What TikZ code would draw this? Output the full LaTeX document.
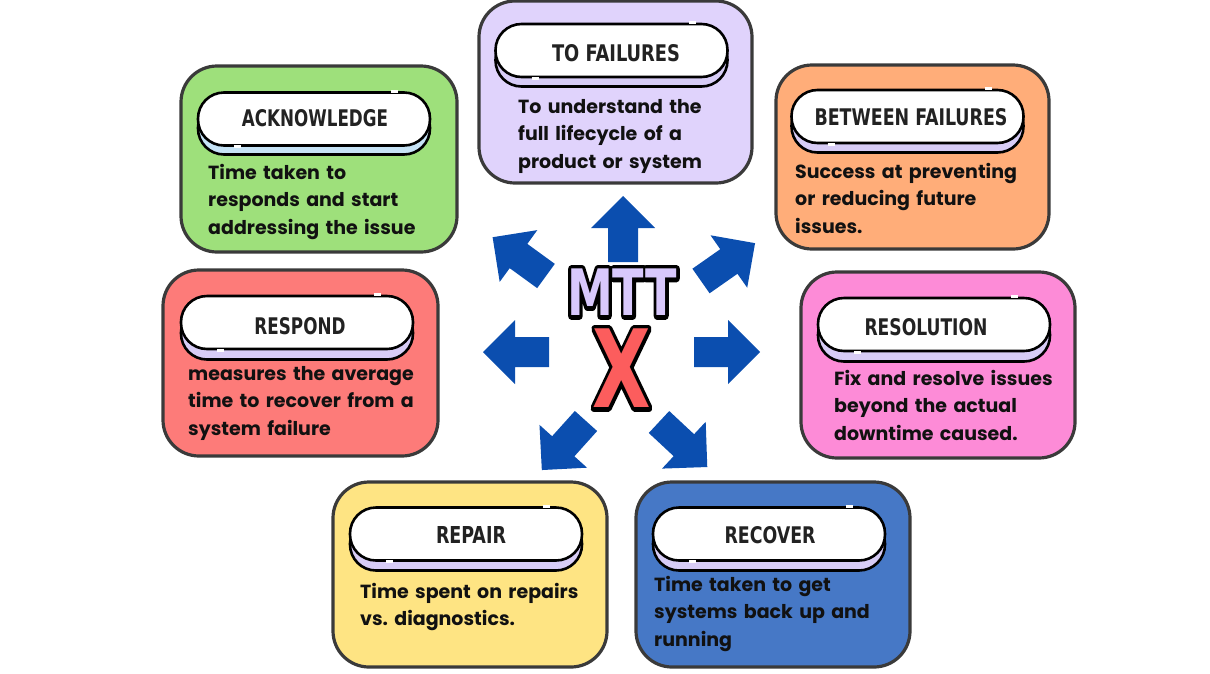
\documentclass[tikz,border=0pt]{standalone}
\usepackage{fontspec}
\usepackage{graphicx}
\newfontfamily\bodyf{Poppins}
\newfontfamily\titlef{DejaVu Sans Condensed}
\definecolor{cardline}{HTML}{3A3A3A}
\definecolor{cgreen}{HTML}{9EE07B}
\definecolor{clav}{HTML}{E0D3FC}
\definecolor{corange}{HTML}{FFAD79}
\definecolor{cpink}{HTML}{FD8BD7}
\definecolor{cred}{HTML}{FD7B79}
\definecolor{cyellow}{HTML}{FEE483}
\definecolor{cblue}{HTML}{4678C6}
\definecolor{shlav}{HTML}{D7CCF6}
\definecolor{shblue}{HTML}{C6E3F6}
\definecolor{arrowblue}{HTML}{0B4EAF}
\definecolor{textc}{HTML}{111111}
\definecolor{titlec}{HTML}{222222}
\definecolor{mttlav}{HTML}{D8C8FC}
\definecolor{xred}{HTML}{FC5D5D}
\newcommand{\ttl}[2]{\resizebox{#1pt}{17pt}{\titlef\bfseries #2}}
% outlined text: black stroked copy below, then fill in colour #1
\newcommand{\outl}[3]{\makebox[0pt][l]{\color{black}\special{pdf:literal direct 2 Tr #2 w 1 j}#3\special{pdf:literal direct 0 Tr}}{\color{#1}#3}}
\begin{document}
\begin{tikzpicture}[x=1pt,y=-1pt,
  card/.style={draw=cardline, line width=3.2pt, rounded corners=36pt, rectangle, inner sep=0pt},
  pill/.style={draw=black, line width=2.6pt, fill=white, rounded corners=26pt, rectangle, inner sep=0pt, minimum width=232pt, minimum height=53pt},
  pillsh/.style={draw=black, line width=2.6pt, rounded corners=26pt, rectangle, inner sep=0pt, minimum width=232pt, minimum height=53pt},
  ttlnode/.style={inner sep=0pt, text=titlec},
  body/.style={anchor=base west, inner sep=0pt, align=left, text width=260pt, text=textc, font=\bodyf\bfseries\frenchspacing\fontsize{19}{27.5}\selectfont},
  gap/.style={draw=white, line width=3pt},
  radarrow/.pic={\fill[arrowblue] (0,-15) -- (34,-15) -- (34,-32) -- (66,0) -- (34,32) -- (34,15) -- (0,15) -- cycle;}
]
\useasboundingbox (0,0) rectangle (1210,673);

% ---------- ACKNOWLEDGE
\node[card, fill=cgreen, minimum width=276pt, minimum height=186pt] (ack) at (319,159) {};
\node[pillsh, fill=shblue] (acksh) at (314,128) {};
\node[pill] (ackpill) at (314,119) {};
\draw[gap] ([xshift=77pt]ackpill.north) -- ++(7,0);
\draw[gap] ([xshift=-80pt]ackpill.south) -- ++(7,0);
\node[ttlnode] (acktitle) at (315,118) {\ttl{146}{ACKNOWLEDGE}};
\node[body] (acktext) at (208,179) {Time taken to\\responds and start\\addressing the issue};

% ---------- TO FAILURES
\node[card, fill=clav, minimum width=273pt, minimum height=182pt] (tof) at (615.5,92) {};
\node[pillsh, fill=shlav] (tofsh) at (611.5,60) {};
\node[pill] (tofpill) at (611.5,50.5) {};
\draw[gap] ([xshift=77pt]tofpill.north) -- ++(7,0);
\draw[gap] ([xshift=-80pt]tofpill.south) -- ++(7,0);
\node[ttlnode] (toftitle) at (616,53) {\ttl{128}{TO FAILURES}};
\node[body] (toftext) at (518,113) {To understand the\\full lifecycle of a\\product or system};

% ---------- BETWEEN FAILURES
\node[card, fill=corange, minimum width=273pt, minimum height=184pt] (btw) at (912.5,157) {};
\node[pillsh, fill=shlav] (btwsh) at (907.5,126) {};
\node[pill] (btwpill) at (907.5,116.5) {};
\draw[gap] ([xshift=77pt]btwpill.north) -- ++(7,0);
\draw[gap] ([xshift=-80pt]btwpill.south) -- ++(7,0);
\node[ttlnode] (btwtitle) at (911,117) {\ttl{193}{BETWEEN FAILURES}};
\node[body] (btwtext) at (795,178) {Success at preventing\\or reducing future\\issues.};

% ---------- RESOLUTION
\node[card, fill=cpink, minimum width=274pt, minimum height=186pt] (res) at (938,365) {};
\node[pillsh, fill=shlav] (ressh) at (934,335) {};
\node[pill] (respill) at (934,324.5) {};
\draw[gap] ([xshift=77pt]respill.north) -- ++(7,0);
\draw[gap] ([xshift=-80pt]respill.south) -- ++(7,0);
\node[ttlnode] (restitle) at (926,327) {\ttl{123}{RESOLUTION}};
\node[body] (restext) at (834,385) {Fix and resolve issues\\beyond the actual\\downtime caused.};

% ---------- RESPOND
\node[card, fill=cred, minimum width=275pt, minimum height=186pt] (rsp) at (300.5,363) {};
\node[pillsh, fill=shlav] (rspsh) at (297,333) {};
\node[pill] (rsppill) at (297,322.5) {};
\draw[gap] ([xshift=77pt]rsppill.north) -- ++(7,0);
\draw[gap] ([xshift=-80pt]rsppill.south) -- ++(7,0);
\node[ttlnode] (rsptitle) at (300,326) {\ttl{91}{RESPOND}};
\node[body] (rsptext) at (188,380) {measures the average\\time to recover from a\\system failure};

% ---------- REPAIR
\node[card, fill=cyellow, minimum width=274pt, minimum height=185pt] (rep) at (470,574.5) {};
\node[pillsh, fill=shlav] (repsh) at (466,544) {};
\node[pill] (reppill) at (466,534) {};
\draw[gap] ([xshift=77pt]reppill.north) -- ++(7,0);
\draw[gap] ([xshift=-80pt]reppill.south) -- ++(7,0);
\node[ttlnode] (reptitle) at (471,535) {\ttl{70}{REPAIR}};
\node[body] (reptext) at (360,598) {Time spent on repairs\\vs. diagnostics.};

% ---------- RECOVER
\node[card, fill=cblue, minimum width=274pt, minimum height=185pt] (rec) at (773,574.5) {};
\node[pillsh, fill=shlav] (recsh) at (769,544) {};
\node[pill] (recpill) at (769,534) {};
\draw[gap] ([xshift=77pt]recpill.north) -- ++(7,0);
\draw[gap] ([xshift=-80pt]recpill.south) -- ++(7,0);
\node[ttlnode] (rectitle) at (770,535) {\ttl{91}{RECOVER}};
\node[body] (rectext) at (654,591) {Time taken to get\\systems back up and\\running};

% ---------- arrows
\pic[rotate=90] (aup) at (623,262) {radarrow};
\pic[rotate=180] (aleft) at (549,352) {radarrow};
\pic[rotate=0] (aright) at (694,352) {radarrow};
\pic[rotate=144] (aul) at (546,276) {radarrow};
\pic[rotate=35] (aur) at (701,281) {radarrow};
\pic[rotate=-132] (adl) at (586,421) {radarrow};
\pic[rotate=-43] (adr) at (659,422) {radarrow};

% ---------- centre
\node[inner sep=0pt] (mtt) at (622,292.5) {\scalebox{0.8}[1]{\outl{mttlav}{8}{\fontsize{64}{64}\titlef\bfseries MTT}}};
\node[inner sep=0pt] (xmark) at (621.5,368.5) {\scalebox{0.78}[1]{\outl{xred}{8}{\fontsize{108}{108}\titlef\bfseries X}}};
\end{tikzpicture}
\end{document}
